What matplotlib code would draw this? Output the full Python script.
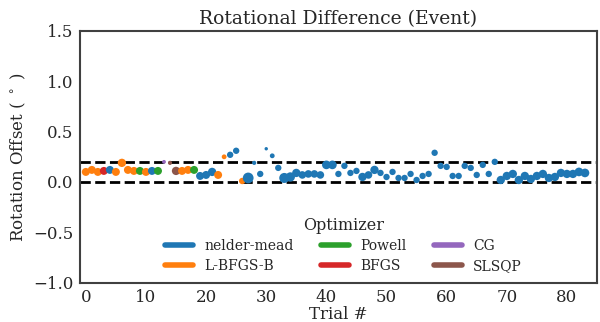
import matplotlib
matplotlib.use("Agg")
from matplotlib import pyplot as plt
from matplotlib.lines import Line2D
import seaborn as sns

sns.set_style("white")
plt.rcParams['font.family'] = ['DejaVu Serif']

optimizers = ["nelder-mead", "L-BFGS-B", "Powell", "BFGS", "CG", "SLSQP"]
colors = sns.color_palette("tab10", 6)

# one entry per trial
trial_opt = ["L-BFGS-B", "L-BFGS-B", "L-BFGS-B", "BFGS", "nelder-mead", "L-BFGS-B",
             "L-BFGS-B", "L-BFGS-B", "L-BFGS-B", "Powell", "L-BFGS-B", "nelder-mead",
             "Powell", "CG", "SLSQP", "SLSQP", "L-BFGS-B", "L-BFGS-B", "Powell",
             "nelder-mead", "nelder-mead", "nelder-mead", "L-BFGS-B", "L-BFGS-B",
             "nelder-mead", "nelder-mead", "L-BFGS-B"] + ["nelder-mead"] * 57
offset = [0.10, 0.12, 0.10, 0.11, 0.12, 0.10, 0.19, 0.12, 0.11, 0.11,
          0.10, 0.11, 0.11, 0.20, 0.19, 0.11, 0.11, 0.12, 0.12, 0.06,
          0.07, 0.10, 0.07, 0.25, 0.27, 0.31, 0.01, 0.04, 0.19, 0.08,
          0.33, 0.26, 0.14, 0.04, 0.05, 0.09, 0.07, 0.08, 0.08, 0.07,
          0.17, 0.17, 0.08, 0.16, 0.09, 0.11, 0.05, 0.07, 0.12, 0.09,
          0.05, 0.10, 0.04, 0.04, 0.08, 0.02, 0.06, 0.08, 0.29, 0.16,
          0.15, 0.06, 0.06, 0.16, 0.14, 0.07, 0.17, 0.08, 0.20, 0.02,
          0.06, 0.08, 0.02, 0.06, 0.03, 0.06, 0.08, 0.04, 0.05, 0.09,
          0.08, 0.08, 0.10, 0.09]
size = [22, 22, 22, 22, 22, 22, 24, 22, 22, 22,
        22, 22, 22, 5, 6, 24, 22, 22, 22, 22,
        22, 24, 22, 8, 14, 14, 14, 40, 6, 14,
        4, 8, 14, 35, 30, 24, 20, 20, 20, 20,
        26, 26, 14, 14, 14, 14, 24, 20, 24, 14,
        14, 14, 14, 14, 14, 14, 14, 14, 14, 14,
        14, 14, 14, 14, 14, 14, 14, 14, 14, 24,
        24, 24, 24, 24, 24, 24, 24, 24, 24, 24,
        24, 24, 26, 26]
trials = list(range(len(offset)))

fig = plt.figure(figsize=(6, 3.22), dpi=100)
ax = fig.add_axes([0.133, 0.122, 0.862, 0.782])

cmap = dict(zip(optimizers, colors))
ax.scatter(trials, offset, s=[v * 1.5 for v in size], c=[cmap[o] for o in trial_opt],
           zorder=3, linewidths=0)

ax.axhline(0, color="black", ls="--", lw=2)
ax.axhline(0.2, color="black", ls="--", lw=2)

ax.set_xlim(-1, 85)
ax.set_ylim(-1.0, 1.5)
ax.set_xticks(range(0, 81, 10))
ax.set_yticks([-1.0, -0.5, 0.0, 0.5, 1.0, 1.5])
ax.tick_params(labelsize=12, colors="0.15", pad=1)
for sp in ax.spines.values():
    sp.set_color("0.25")
    sp.set_linewidth(1.5)

ax.set_title("Rotational Difference (Event)", fontsize=13.5, color="0.15", pad=5)
ax.set_xlabel("Trial #", fontsize=12, color="0.15", labelpad=0)
ax.set_ylabel("Rotation Offset ( $^\\circ$ )", fontsize=12, color="0.15", labelpad=4)

handles = [Line2D([], [], color=cmap[o], lw=4, solid_capstyle="round") for o in optimizers]
leg = ax.legend(handles, optimizers, title="Optimizer", ncol=3, loc="lower center",
                frameon=False, fontsize=10, title_fontsize=11.5,
                bbox_to_anchor=(0.51, -0.01), columnspacing=2.0, handlelength=2.0,
                labelspacing=0.4)

fig.savefig("out.png")
